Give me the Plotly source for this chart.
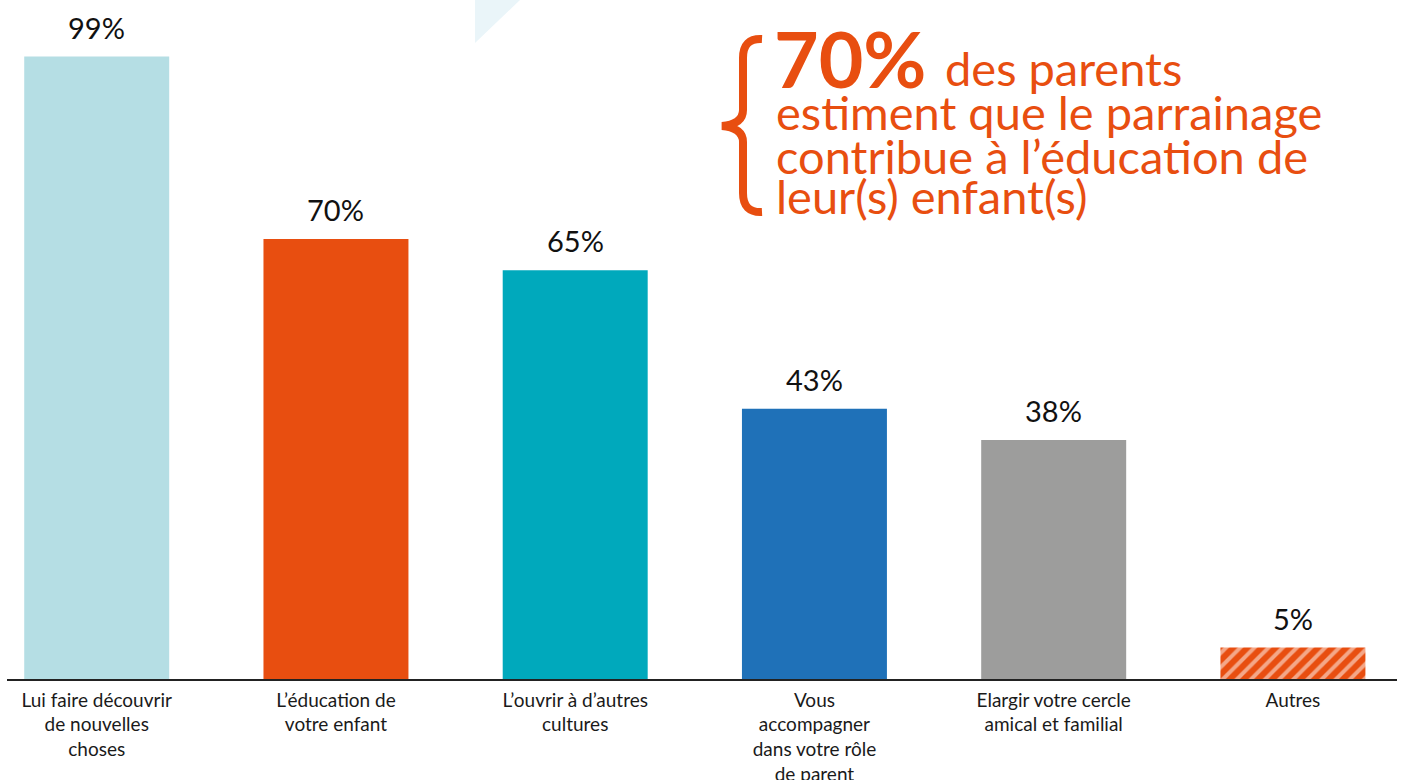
import plotly.graph_objects as go

categories = [
    "Lui faire découvrir<br>de nouvelles<br>choses",
    "L’éducation de<br>votre enfant",
    "L’ouvrir à d’autres<br>cultures",
    "Vous<br>accompagner<br>dans votre rôle<br>de parent",
    "Elargir votre cercle<br>amical et familial",
    "Autres",
]
values = [99, 70, 65, 43, 38, 5]
value_labels = ["99%", "70%", "65%", "43%", "38%", "5%"]
colors = ["#b5dee4", "#e84e10", "#00a9bc", "#1f71b8", "#9d9d9c", "#e84e10"]
patterns = ["", "", "", "", "", "/"]

ORANGE = "#e84e10"
FONT = "Lato"

W, H = 1402, 780
ML, MR, MT, MB = 7, 5, 0, 101


def px(x):
    return (x - ML) / (W - ML - MR)


def py(y):
    return (H - MB - y) / (H - MT - MB)


xs = list(range(len(categories)))

fig = go.Figure()
fig.add_trace(go.Bar(
    x=xs,
    y=values,
    marker=dict(
        color=colors,
        line=dict(width=0),
        pattern=dict(shape=patterns, fgcolor="white", fillmode="overlay",
                     size=10, solidity=0.4),
    ),
    hoverinfo="skip",
))

for x, v, t in zip(xs, values, value_labels):
    fig.add_annotation(x=x, y=v, text=t, showarrow=False, xref="x", yref="y",
                       yanchor="bottom", yshift=10,
                       font=dict(family=FONT, size=29, color="#111111"))

# decorative triangle at top
fig.add_shape(type="path", xref="paper", yref="paper",
              path=f"M {px(475)},{py(0)} L {px(520)},{py(0)} L {px(475)},{py(43)} Z",
              fillcolor="#eaf5f9", line=dict(width=0), layer="below")

# brace
brace = (
    f"M {px(762)},{py(39)} "
    f"Q {px(743)},{py(38)} {px(743)},{py(58)} "
    f"L {px(743)},{py(110)} "
    f"Q {px(743)},{py(124)} {px(722)},{py(126)} "
    f"Q {px(743)},{py(128)} {px(743)},{py(142)} "
    f"L {px(743)},{py(193)} "
    f"Q {px(743)},{py(213)} {px(762)},{py(212)}"
)
fig.add_shape(type="path", xref="paper", yref="paper", path=brace,
              line=dict(color=ORANGE, width=8))

# callout text
fig.add_annotation(x=px(772), y=py(58), xref="paper", yref="paper",
                   text="<b>70%</b>", showarrow=False, xanchor="left", yanchor="middle",
                   font=dict(family=FONT, size=77, color=ORANGE))
lines = [("des parents", 943, 68),
         ("estiment que le parrainage", 774, 112),
         ("contribue à l’éducation de", 774, 156),
         ("leur(s) enfant(s)", 774, 196)]
for t, x0, yc in lines:
    fig.add_annotation(x=px(x0), y=py(yc), xref="paper", yref="paper",
                       text=t, showarrow=False, xanchor="left", yanchor="middle",
                       font=dict(family=FONT, size=47, color=ORANGE))

fig.update_layout(
    width=W, height=H,
    margin=dict(l=ML, r=MR, t=MT, b=MB, autoexpand=False),
    plot_bgcolor="white", paper_bgcolor="white",
    bargap=0.394,
    showlegend=False,
    font=dict(family=FONT),
    xaxis=dict(range=[-0.375, 5.435], tickmode="array", tickvals=xs, ticktext=categories,
               showline=True, linecolor="#222222", linewidth=1.5, showgrid=False,
               zeroline=False, ticks="", ticklabelstandoff=3, automargin=False,
               tickfont=dict(family=FONT, size=19, color="#1a1a1a"),
               fixedrange=True),
    yaxis=dict(range=[0, 108], visible=False, fixedrange=True, automargin=False),
)

fig.write_html(
    "out.html",
    config={"displayModeBar": False},
    post_script="document.body.style.margin='0px';document.body.style.overflow='hidden';",
)
